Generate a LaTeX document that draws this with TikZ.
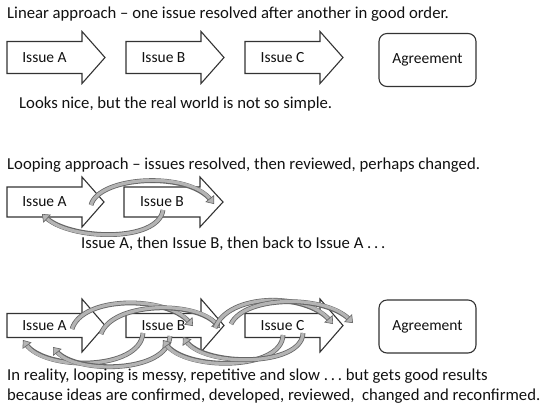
\documentclass[tikz,border=0pt]{standalone}
\usepackage{fontspec}
\setmainfont{Carlito}
\usetikzlibrary{arrows.meta}
\definecolor{txt}{HTML}{111111}
\definecolor{edge}{HTML}{333333}
\definecolor{bandfill}{HTML}{B4B4B4}
\definecolor{bandedge}{HTML}{666666}
\tikzset{
  blk/.style={draw=edge, fill=white, line width=1.1pt, line join=miter},
  lbl/.style={font=\fontsize{15.5}{18}\selectfont, text=txt, inner sep=0pt},
  captxt/.style={font=\fontsize{16.7}{19}\selectfont, text=txt, inner sep=0pt, anchor=base west},
  agree/.style={draw=edge, fill=white, line width=1.1pt, rounded corners=8pt,
    font=\fontsize{15.5}{18}\selectfont, text=txt, minimum width=97pt, minimum height=53pt},
  loopband/.style={preaction={draw=bandedge, line width=4.8pt, arrows=-, shorten >=5pt},
    draw=bandfill, line width=3.2pt,
    -{Triangle[width=11pt,length=7pt,color=bandedge,fill=bandfill,line width=0.6pt]}},
}
% name, left, cy, base, tip, bodyhalf, headhalf, label
\newcommand{\blockarrow}[8]{%
  \draw[blk] (#2,#3-#6) -- (#4,#3-#6) -- (#4,#3-#7) -- (#5,#3) -- (#4,#3+#7)
     -- (#4,#3+#6) -- (#2,#3+#6) -- cycle;
  \node[lbl] (#1) at ({(#2+#4)/2},#3) {#8};
}
\begin{document}
\begin{tikzpicture}[x=1pt,y=-1pt]
\useasboundingbox[fill=white] (0,0) rectangle (548,408);

% ---------- section 1 ----------
\node[captxt] (t1) at (7,18) {Linear approach – one issue resolved after another in good order.};
\blockarrow{a1}{7}{57.5}{82}{105}{16}{26}{Issue A}
\blockarrow{b1}{126}{57.5}{201}{224}{16}{26}{Issue B}
\blockarrow{c1}{245}{57.5}{320}{343}{16}{26}{Issue C}
\node[agree] (g1) at (427.5,60) {Agreement};
\node[captxt] (n1) at (19,108.5) {Looks nice, but the real world is not so simple.};

% ---------- section 2 ----------
\node[captxt] (t2) at (7,169) {Looping approach – issues resolved, then reviewed, perhaps changed.};
\blockarrow{a2}{7}{202}{82}{104}{15}{25}{Issue A}
\blockarrow{b2}{124}{202}{200}{223}{15}{25}{Issue B}
\coordinate (s2a) at (91,205);
\coordinate (e2a) at (214,204);
\coordinate (s2b) at (163,210);
\coordinate (e2b) at (42,214);
\draw[loopband] (s2a) .. controls (99,176) and (188,171) .. (e2a);
\draw[loopband] (s2b) .. controls (158,243) and (70,240) .. (e2b);
\node[captxt] (n2) at (81,248.5) {Issue A, then Issue B, then back to Issue A\ .\,.\,.};

% ---------- section 3 ----------
\blockarrow{a3}{7}{325.5}{82}{105}{12}{26.5}{Issue A}
\blockarrow{b3}{126}{325.5}{201}{224}{12}{26.5}{Issue B}
\blockarrow{c3}{245}{325.5}{320}{343}{12}{26.5}{Issue C}
\node[agree] (g3) at (427.5,326.5) {Agreement};

\coordinate (t1s) at (72,329);
\coordinate (t1e) at (193,326);
\coordinate (t2s) at (101,334);
\coordinate (t2e) at (220,328);
\coordinate (t3s) at (215,328);
\coordinate (t3e) at (333,324);
\coordinate (t4s) at (231,324);
\coordinate (t4e) at (353,323);
\coordinate (u1s) at (143,333);
\coordinate (u1e) at (23,340);
\coordinate (u2s) at (170,336);
\coordinate (u2e) at (53,347);
\coordinate (u3s) at (283,335);
\coordinate (u3e) at (163,340);
\coordinate (u4s) at (303,333);
\coordinate (u4e) at (183,337);

\draw[loopband] (u1s) .. controls (140,371) and (45,371) .. (u1e);
\draw[loopband] (u2s) .. controls (168,374) and (75,374) .. (u2e);
\draw[loopband] (u3s) .. controls (282,371) and (185,371) .. (u3e);
\draw[loopband] (u4s) .. controls (302,367) and (205,367) .. (u4e);
\draw[loopband] (t1s) .. controls (82,296) and (165,295) .. (t1e);
\draw[loopband] (t2s) .. controls (112,302) and (195,300) .. (t2e);
\draw[loopband] (t3s) .. controls (228,293) and (305,292) .. (t3e);
\draw[loopband] (t4s) .. controls (245,295) and (325,295) .. (t4e);

\node[captxt] (r1) at (7,380.5) {In reality, looping is messy, repetitive and slow\ .\,.\,.\ but gets good results};
\node[captxt] (r2) at (7,400.5) {because ideas are confirmed, developed, reviewed,\ \ changed and reconfirmed.};
\end{tikzpicture}
\end{document}
